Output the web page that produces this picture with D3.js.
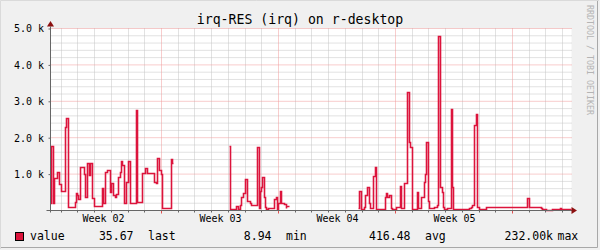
<!DOCTYPE html>
<head>
  <meta charset="utf-8">
  <script src="https://d3js.org/d3.v7.min.js"></script>
  <style>
    body { margin: 0; background: #f0f0f0; }
    text { font-family: "DejaVu Sans Mono", monospace; }
  </style>
</head>

<body>
  <svg width="600" height="250"></svg>

  <script>
    // sample times in days from the left edge of the graph, null value = unknown data (gap)
    const times = [
      0.00, 0.03, 0.16, 0.26, 0.42, 0.56, 0.66, 0.88, 0.96, 1.06, 1.48, 1.54, 1.60, 1.69, 1.81, 2.02, 2.08,
      2.21, 2.33, 2.41, 2.53, 2.65, 3.09, 3.17, 3.29, 3.41, 3.57, 3.67, 3.79, 3.89, 3.97, 4.07, 4.17, 4.25,
      4.33, 4.41, 4.53, 4.69, 4.78, 5.12, 5.22, 5.49, 5.68, 5.78, 6.22, 6.32, 6.43, 6.52, 6.62, 6.72, 7.22,
      7.32, 7.38, 7.38,
      10.69, 10.77, 11.13, 11.27, 11.37, 11.43, 11.55, 11.65, 11.81, 11.95, 12.05, 12.37, 12.51, 12.57, 12.61,
      12.71, 12.81, 12.85, 12.91, 13.06, 13.40, 13.50, 13.60, 13.66, 13.74, 13.81, 13.99, 14.09, 14.13, 14.30,
      14.30,
      18.45, 18.49, 18.59, 18.79, 18.85, 18.99, 19.07, 19.13, 19.33, 19.43, 19.53, 20.03, 20.12, 20.18, 20.29,
      20.39, 20.48, 20.72, 20.93, 21.02, 21.18, 21.36, 21.46, 21.54, 21.64, 21.68, 21.94, 22.02, 22.18, 22.38,
      22.44, 22.52, 22.64, 22.70, 22.98, 23.14, 23.20, 23.24, 23.32, 23.44, 23.52, 23.58, 23.77, 23.98, 24.07,
      24.13, 24.58, 25.07, 25.17, 25.27, 25.37, 25.47, 25.57, 25.67, 26.07, 28.56, 28.66, 29.36, 29.46, 29.66,
      30.06, 30.52, 30.58, 31.17
    ];
    const values = [
      200, 1760, 200, 870, 1050, 710, 520, 2270, 2520, 80, 230, 470, 410, 300, 1170, 990, 350,
      1300, 960, 1300, 320, 100, 600, 180, 1050, 1090, 500, 730, 400, 350, 440, 920, 1050, 1350,
      1240, 190, 780, 1350, 180, 2750, 230, 1030, 1150, 1010, 780, 740, 1420, 1100, 1000, 45, 1390,
      1300, 1300, null,
      1760, 35, 100, 40, 140, 350, 480, 840, 260, 180, 150, 1720, 60, 520, 620,
      900, 360, 90, 30, 45, 290, 370, 40, 180, 520, 180, 160, 45, 100, 100,
      null,
      60, 520, 30, 90, 400, 620, 180, 45, 930, 1170, 30, 350, 460, 350, 400,
      60, 30, 90, 670, 45, 750, 3250, 1880, 1720, 90, 30, 490, 45, 370, 780,
      1000, 1860, 260, 45, 70, 140, 640, 4780, 640, 500, 90, 30, 45, 2770, 640,
      30, 20, 64, 92, 130, 2335, 2629, 73, 20, 73, 320, 73, 45, 20, 9,
      27, 55, 36, 36
    ];

    const weekStarts = [-0.359, 6.641, 13.641, 20.641, 27.641];
    const weekLabels = ["Week 02", "Week 03", "Week 04", "Week 05"];
    const yTicks = [1000, 2000, 3000, 4000, 5000];
    const title = "irq-RES (irq) on r-desktop";
    const watermark = "RRDTOOL / TOBI OETIKER";
    const legendName = "value";
    const statValues = ["35.67", "8.94", "416.48", "232.00k"];
    const statNames = ["last", "min", "avg", "max"];

    const lineColor = "#dc143c";
    const svg = d3.select("svg");

    const x = d3.scaleLinear().domain([0, 31.17]).range([50.5, 571.5]);
    const y = d3.scaleLinear().domain([0, 5000]).range([210.5, 28.5]);
    const [x0, x1] = x.range();
    const [y0, y1] = y.range();

    // frame
    svg.append("rect").attr("width", 600).attr("height", 250).attr("fill", "#f0f0f0");
    svg.append("path").attr("d", "M0.5,249V0.5H599").attr("stroke", "#dadada").attr("fill", "none");
    svg.append("path").attr("d", "M597.5,1V247.5H1").attr("stroke", "#a8a8a8").attr("fill", "none");

    // canvas
    svg.append("rect").attr("x", x0).attr("y", y1).attr("width", x1 - x0).attr("height", y0 - y1)
      .attr("fill", "#fff");

    // grid
    const days = d3.range(1, 32).map(k => weekStarts[0] + k).filter(d => d > 0 && d < 31.17);
    const minorDays = days.filter(d => !weekStarts.some(w => Math.abs(w - d) < 1e-6));
    const majorDays = weekStarts.filter(d => d > 0 && d < 31.17);
    const minorY = d3.range(200, 5000, 200).filter(v => v % 1000 !== 0);
    const px = d => Math.round(x(d) - 0.5) + 0.5;

    const grid = svg.append("g").attr("fill", "none").attr("stroke-dasharray", "1,1");
    grid.selectAll(".hmin").data(minorY).join("line")
      .attr("x1", x0).attr("x2", x1).attr("y1", d => y(d)).attr("y2", d => y(d))
      .attr("stroke", "#c4c4c4");
    grid.selectAll(".vmin").data(minorDays).join("line")
      .attr("x1", px).attr("x2", px)
      .attr("y1", y1).attr("y2", y0)
      .attr("stroke", "#c4c4c4");
    grid.selectAll(".hmaj").data(yTicks).join("line")
      .attr("x1", x0).attr("x2", x1).attr("y1", d => y(d)).attr("y2", d => y(d))
      .attr("stroke", "#f19a9a");
    grid.selectAll(".vmaj").data(majorDays).join("line")
      .attr("x1", px).attr("x2", px)
      .attr("y1", y1).attr("y2", y0)
      .attr("stroke", "#f19a9a");

    // data
    const pts = times.map((t, i) => [t, values[i]]);
    const line = d3.line()
      .defined(d => d[1] !== null)
      .x(d => px(d[0]))
      .y(d => Math.round(y(d[1]) - 0.5) + 0.5)
      .curve(d3.curveStepAfter);
    svg.append("path").datum(pts)
      .attr("d", line)
      .attr("fill", "none")
      .attr("stroke", lineColor)
      .attr("stroke-width", 1.6);

    // axes
    const axisColor = "#666";
    const arrowColor = "#8c1010";

    const yAxis = svg.append("g").attr("transform", `translate(${x0},0)`)
      .call(d3.axisLeft(y).tickValues(yTicks).tickSize(2).tickPadding(4.5)
        .tickFormat(d => (d / 1000).toFixed(1) + " k"));
    yAxis.select(".domain").remove();
    yAxis.selectAll("line").attr("stroke", axisColor);
    yAxis.selectAll("text").attr("font-size", 10).attr("font-family", "DejaVu Sans Mono")
      .attr("fill", "#000").attr("dy", "0.34em");

    const xTicks = svg.append("g").attr("transform", `translate(0,${y0})`)
      .call(d3.axisBottom(x).tickValues(minorDays).tickSize(2).tickFormat(""));
    xTicks.select(".domain").remove();
    xTicks.selectAll(".tick").attr("transform", d => `translate(${px(d)},0)`);
    xTicks.selectAll("line").attr("stroke", axisColor);

    const xMajor = svg.append("g").attr("transform", `translate(0,${y0})`)
      .call(d3.axisBottom(x).tickValues(majorDays).tickSize(3).tickFormat(""));
    xMajor.select(".domain").remove();
    xMajor.selectAll(".tick").attr("transform", d => `translate(${px(d)},0)`);
    xMajor.selectAll("line").attr("stroke", "#e05050");

    const xLabels = svg.append("g").attr("transform", `translate(0,${y0})`)
      .call(d3.axisBottom(x).tickValues(weekLabels.map((_, i) => weekStarts[i] + 3.5))
        .tickSize(0).tickPadding(4.6).tickFormat((_, i) => weekLabels[i]));
    xLabels.select(".domain").remove();
    xLabels.selectAll("text").attr("font-size", 10).attr("font-family", "DejaVu Sans Mono").attr("fill", "#000");

    svg.append("line").attr("x1", x0 - 4).attr("x2", x1 + 1).attr("y1", y0).attr("y2", y0)
      .attr("stroke", axisColor);
    svg.append("line").attr("x1", x0).attr("x2", x0).attr("y1", y0 + 2).attr("y2", y1 - 2)
      .attr("stroke", axisColor);
    svg.append("path")
      .attr("d", `M${x1},${y0 - 3.5}L${x1 + 5.5},${y0}L${x1},${y0 + 3.5}Z`)
      .attr("fill", arrowColor);
    svg.append("path")
      .attr("d", `M${x0 - 3.5},${y1 - 2}L${x0},${y1 - 7.5}L${x0 + 3.5},${y1 - 2}Z`)
      .attr("fill", arrowColor);

    // title
    svg.append("text").attr("x", 300).attr("y", 23.5).attr("text-anchor", "middle")
      .attr("font-size", 13.2).text(title);

    // watermark
    svg.append("text").attr("transform", "translate(587,5) rotate(90)")
      .attr("font-size", 8.3).attr("fill", "#b4b4b4").text(watermark);

    // legend
    svg.append("rect").attr("x", 15.5).attr("y", 232.5).attr("width", 8).attr("height", 8)
      .attr("fill", lineColor).attr("stroke", "#000");
    const lg = svg.append("g").attr("font-size", 11.5);
    lg.append("text").attr("x", 30).attr("y", 239.6).text(legendName);
    const valueEnds = [133.5, 271.5, 410.5, 553];
    const nameStarts = [148, 286, 425, 557.5];
    statValues.forEach((v, i) => {
      lg.append("text").attr("x", valueEnds[i]).attr("y", 239.6).attr("text-anchor", "end").text(v);
      lg.append("text").attr("x", nameStarts[i]).attr("y", 239.6).text(statNames[i]);
    });
  </script>
</body>
